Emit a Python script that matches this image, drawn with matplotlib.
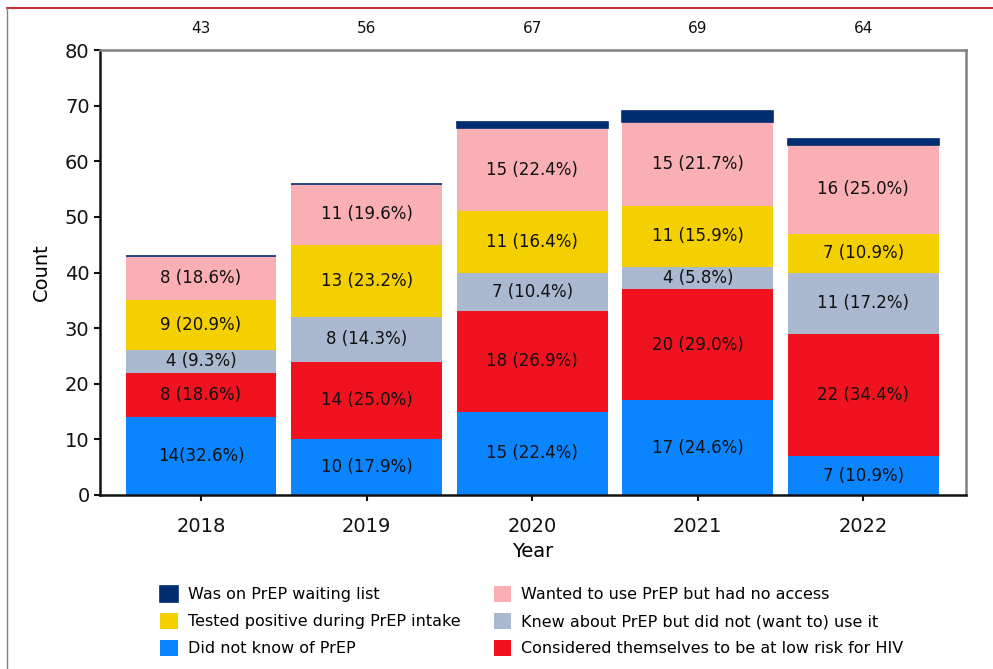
import numpy as np
import matplotlib
matplotlib.use("Agg")
from matplotlib import pyplot as plt
from matplotlib.lines import Line2D

years = ["2018", "2019", "2020", "2021", "2022"]
did_not_know = [14, 10, 15, 17, 7]
low_risk = [8, 14, 18, 20, 22]
knew_not_use = [4, 8, 7, 4, 11]
tested_positive = [9, 13, 11, 11, 7]
no_access = [8, 11, 15, 15, 16]
waiting_list = [0, 0, 1, 2, 1]

series = [
    ("Did not know of PrEP", did_not_know, "#0A84FF"),
    ("Considered themselves to be at low risk for HIV", low_risk, "#F0121E"),
    ("Knew about PrEP but did not (want to) use it", knew_not_use, "#AAB8D0"),
    ("Tested positive during PrEP intake", tested_positive, "#F5D000"),
    ("Wanted to use PrEP but had no access", no_access, "#F9AFB4"),
    ("Was on PrEP waiting list", waiting_list, "#002D72"),
]

totals = np.sum([s[1] for s in series], axis=0)
x = np.arange(len(years))

fig = plt.figure(figsize=(9.93, 6.69), dpi=100)
ax = fig.add_axes([100/993, 1-495/669, 866/993, 445/669])

bottom = np.zeros(len(years))
handles = {}
for name, vals, col in series:
    vals = np.array(vals, dtype=float)
    if name.startswith("Was on"):
        b = ax.bar(x, vals, 0.91, bottom=bottom, color=col, edgecolor=col, linewidth=1.2)
    else:
        b = ax.bar(x, vals, 0.91, bottom=bottom, color=col, linewidth=0)
        for i, v in enumerate(vals):
            pct = v / totals[i] * 100
            sep = "" if (i == 0 and name.startswith("Did not")) else " "
            ax.text(x[i], bottom[i] + v/2, f"{int(v)}{sep}({pct:.1f}%)",
                    ha="center", va="center", fontsize=12, color="#111111")
    handles[name] = b
    bottom += vals

for i, t in enumerate(totals):
    ax.text(x[i], 1.048, str(int(t)), transform=ax.get_xaxis_transform(),
            ha="center", va="center", fontsize=11, color="#111111")

ax.set_xlim(-0.61, 4.62)
ax.set_ylim(0, 80)
ax.set_yticks(range(0, 81, 10))
ax.set_xticks(x)
ax.set_xticklabels(years)
ax.tick_params(axis="both", labelsize=14, direction="out", width=1.5, length=4, colors="#111111")
ax.tick_params(axis="x", pad=12)
ax.set_xlabel("Year", fontsize=14, labelpad=4)
ax.set_ylabel("Count", fontsize=14, labelpad=10)
for s in ["left", "bottom"]:
    ax.spines[s].set_color("#111111")
    ax.spines[s].set_linewidth(1.8)
for s in ["top", "right"]:
    ax.spines[s].set_color("#808080")
    ax.spines[s].set_linewidth(1.8)

order = ["Was on PrEP waiting list", "Tested positive during PrEP intake", "Did not know of PrEP",
         "Wanted to use PrEP but had no access", "Knew about PrEP but did not (want to) use it",
         "Considered themselves to be at low risk for HIV"]
fig.legend([handles[n] for n in order], order, loc="upper left",
           bbox_to_anchor=(146/993, 1-572/669), ncol=2, frameon=False,
           fontsize=11.5, handlelength=1.1, handleheight=1.1, columnspacing=2.1,
           labelspacing=0.68, handletextpad=0.6)

fig.add_artist(Line2D([7/993, 1], [1-8/669, 1-8/669], color="#C8313A", linewidth=1.5))
fig.add_artist(Line2D([7/993, 7/993], [0, 1-8/669], color="#808080", linewidth=1.0))

fig.savefig("out.png", dpi=100)
